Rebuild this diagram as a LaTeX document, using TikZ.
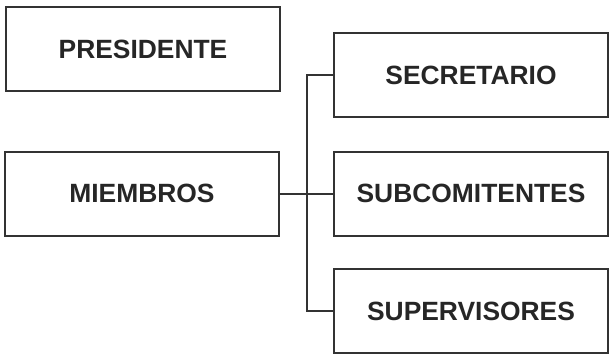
\documentclass[tikz,border=0pt]{standalone}
\usepackage{fontspec}
\setmainfont{Liberation Sans}
\begin{document}
\begin{tikzpicture}[x=0.5pt,y=-0.5pt,
	cargo/.style={draw=black!80,line width=1pt,rectangle,minimum 
	width=137pt,minimum height=42pt,inner sep=0pt,text=black!85,
	font=\fontsize{13.2}{15}\selectfont\bfseries}]
	\useasboundingbox (0,0) rectangle (613,361);
	
	\node[cargo] (presidente) at (143,49) {PRESIDENTE};
	\node[cargo] (miembros) at (142,193.5) {MIEMBROS};
	
	\node[cargo] (secretario) at (471,75) {SECRETARIO};
	\node[cargo] (subcomitentes) at (471,193.5) {SUBCOMITENTES};
	\node[cargo] (supervisores) at (471,311) {SUPERVISORES};
	
	\coordinate (bt) at (307,75);
	\coordinate (bb) at (307,311);
	\draw[black!80,line width=1pt] (secretario.west) -- (bt) -- (bb) 
	-- (supervisores.west);
	\draw[black!80,line width=1pt] (miembros.east) -- 
	(subcomitentes.west);
\end{tikzpicture}
\end{document}
